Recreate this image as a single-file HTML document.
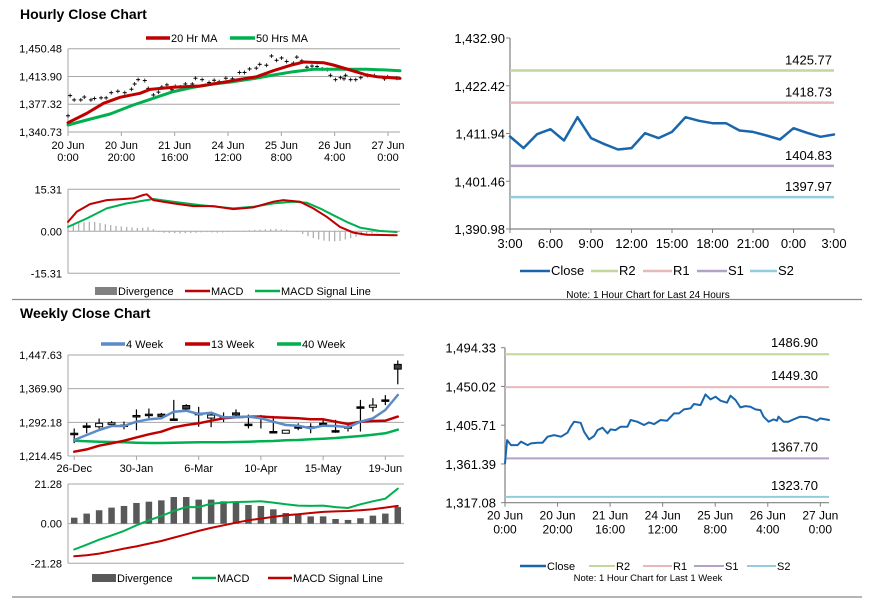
<!DOCTYPE html>
<html><head><meta charset="utf-8">
<style>
html,body{margin:0;padding:0;background:#fff;}
svg{display:block;font-family:"Liberation Sans",Arial,sans-serif;}
</style></head>
<body>
<svg id="s" width="873" height="601" viewBox="0 0 873 601" xmlns="http://www.w3.org/2000/svg">
<rect width="873" height="601" fill="#fff"/>
<text x="20" y="19" font-size="14" font-weight="bold" fill="#000">Hourly Close Chart</text>
<text x="20" y="318" font-size="14" font-weight="bold" fill="#000">Weekly Close Chart</text>
<line x1="12" y1="299.5" x2="862" y2="299.5" stroke="#888" stroke-width="1.2"/>
<line x1="12" y1="597" x2="862" y2="597" stroke="#888" stroke-width="1.2"/>
</svg>
<script>
// ---------- data ----------
const hourTicks = [0,20,40,60,80,100,120];
const hourTickLabels1 = ["20 Jun","20 Jun","21 Jun","24 Jun","25 Jun","26 Jun","27 Jun"];
const hourTickLabels2 = ["0:00","20:00","16:00","12:00","8:00","4:00","0:00"];
const closeHours = [0,0.8,2.3,4.8,6.1,8.6,9.9,12.4,14.3,16.2,18.7,21.3,23.8,25,26.3,28.8,30.1,32,33.9,35.2,37.1,39,40.2,42.1,44,46.6,47.8,50.3,52.9,54.8,56.7,59.2,61.7,64.3,66.2,68.1,70.6,71.9,74.4,76.3,78.2,80.1,82,84.5,85.8,87.7,89.6,91.5,93.4,95.3,97.2,98.4,100.3,102.2,103.5,104.1,106,107.9,109.8,112.3,114.9,118.7,119.9,123.3];
const closeValues = [1362.1,1388.7,1383.0,1383.0,1386.8,1383.0,1384.9,1385.7,1385.7,1392.5,1394.4,1392.5,1397.1,1404.0,1409.7,1408.5,1398.2,1389.5,1393.3,1400.1,1402.8,1396.3,1400.9,1400.1,1404.0,1404.0,1411.6,1409.7,1405.9,1408.9,1407.0,1411.6,1410.8,1419.2,1419.2,1423.8,1424.9,1429.9,1428.7,1440.9,1435.2,1438.3,1433.7,1431.4,1439.4,1434.5,1426.1,1427.6,1426.9,1423.8,1423.0,1415.4,1409.7,1412.3,1410.8,1415.4,1409.7,1409.7,1412.3,1415.4,1415.0,1410.8,1413.5,1411.6];
const ma20Hours = [0,7,13.3,19.5,27,30.8,39.5,49.5,59.5,64.5,70.8,77,83.3,88.3,95.8,99.5,105.8,112,115.8,124.5];
const ma20Values = [1353.0,1365.3,1378.5,1386.4,1391.7,1396.9,1399.6,1401.3,1407.0,1410.1,1413.6,1421.5,1428.5,1432.9,1432.1,1429.0,1422.4,1415.8,1413.6,1411.4];
const ma50Hours = [0,7,15.8,24.5,32,39.5,47,54.5,62,69.5,77,84.5,92,102,112,119.5,124.5];
const ma50Values = [1350.0,1356.6,1364.5,1376.3,1385.1,1393.9,1399.6,1404.0,1407.0,1411.0,1415.8,1420.2,1423.3,1423.3,1423.3,1422.4,1421.5];
const hMacdHours = [0,3.25,8.25,14.5,20.75,24.5,28.25,29.5,32,39.5,47,54.5,62,69.5,77,80.75,87,92,97,102,107,112,123.25];
const hMacdValues = [3.43,7.1,9.92,11.39,11.76,12.0,13.23,13.48,11.39,10.17,9.19,9.19,8.09,8.7,10.78,11.39,10.78,8.33,5.27,1.59,-0.49,-1.23,-1.47];
const hSigHours = [0,7,14.5,22,29.5,32,39.5,49.5,62,69.5,77,84.5,89.5,94.5,99.5,104.5,109.5,117,123.25];
const hSigValues = [1.59,4.66,8.33,10.17,11.39,11.76,10.78,9.56,8.33,8.94,10.17,10.78,10.41,8.33,5.88,3.43,1.35,0.12,-0.25];
const hDivValues = [2.0,2.5,3.0,3.3,3.5,3.4, 3.0,2.6,2.3,2.0,1.8,1.6, 1.4,1.2,1.3,1.5,0.8,-0.3, -0.5,-0.6,-0.7,-0.8,-0.7,-0.6, -0.5,-0.4,-0.3,-0.4,-0.5,-0.4, -0.3,-0.2,0.2,0.3,0.4,0.5, 0.6,0.7,0.8,0.9,0.7,0.5, 0.2,-0.3,-1.0,-1.8,-2.5,-3.0, -3.4,-3.6,-3.7,-3.5,-3.0,-2.5, -2.0,-1.5,-1.1,-0.8,-0.5,-0.3, -0.2,-0.1,-0.1];
const dayTickLabels = ["3:00","6:00","9:00","12:00","15:00","18:00","21:00","0:00","3:00"];
const dayClose = [1411.28,1408.73,1411.79,1412.89,1410.41,1415.52,1410.92,1409.60,1408.43,1408.73,1412.01,1410.92,1412.3,1415.52,1414.72,1414.2,1414.2,1412.6,1412.3,1411.5,1410.63,1413.11,1412.09,1411.21,1411.72];
const dayLevels = [1425.77,1418.73,1404.83,1397.97];
const weekLevels = [1486.90,1449.30,1367.70,1323.70];
const levelNames = ["R2","R1","S1","S2"];
const weekTickLabels = ["26-Dec","30-Jan","6-Mar","10-Apr","15-May","19-Jun"];
const weekTickIdx = [0,5,10,15,20,25];
const wOpen  = [1267,1284,1282,1288,1286,1308,1311,1311,1300,1331,1313,1302,1305,1314,1288,1307,1271,1267,1282,1282,1290,1273,1282,1328,1327,1344,1426];
const wClose = [1265,1284,1290,1291,1286,1307,1310,1306,1300,1323,1313,1309,1305,1309,1288,1307,1271,1274,1282,1282,1290,1273,1282,1328,1332,1344,1415];
const wHigh  = [1278,1291,1301,1295,1294,1322,1324,1314,1344,1334,1328,1316,1315,1322,1310,1309,1307,1274,1290,1290,1301,1298,1290,1344,1348,1355,1435];
const wLow   = [1244,1267,1278,1283,1276,1274,1301,1301,1299,1321,1282,1281,1293,1307,1278,1278,1271,1267,1274,1267,1282,1268,1271,1271,1317,1332,1380];
const w4 = [1251.4,1262.9,1274.5,1283.7,1283.7,1293.7,1299.1,1301.4,1316.8,1319.1,1311.4,1314.5,1303.7,1303.7,1305.3,1301.4,1293.7,1286.0,1284.5,1278.3,1284.5,1283.7,1280.6,1293.7,1301.4,1320.6,1355.3];
const w13 = [1224.4,1229.8,1238.3,1243.7,1249.8,1257.5,1264.5,1270.6,1280.6,1286.0,1289.9,1296.0,1301.4,1303.7,1305.3,1305.3,1303.7,1302.9,1301.4,1299.1,1299.1,1293.7,1288.3,1293.7,1295.3,1296.0,1305.3];
const w40 = [1249.8,1248.3,1247.5,1246.8,1246.0,1245.2,1244.5,1244.5,1245.2,1245.6,1246.0,1246.0,1246.0,1246.8,1247.5,1248.3,1249.0,1250.6,1251.4,1252.9,1254.4,1256.0,1258.3,1260.6,1263.7,1266.8,1275.2];
const wDiv = [3.2,5.4,7.2,8.6,9.5,11.1,11.8,12.5,14.3,14.3,12.9,12.9,12.0,11.6,10.0,9.5,7.7,5.7,5.4,3.9,3.9,2.5,2.0,2.9,4.3,5.4,8.9];
const wMacd = [-13.9,-11.3,-8.6,-6.3,-3.9,-0.9,1.8,4.1,6.8,8.9,8.9,10.7,11.3,11.6,11.8,12.0,11.3,10.4,9.7,9.5,9.7,8.9,8.4,10.4,12.0,13.4,18.8];
const wSig = [-17.5,-17.0,-16.1,-14.8,-13.4,-12.2,-10.7,-9.3,-7.5,-5.7,-3.9,-2.3,-0.9,0.5,1.8,2.7,3.6,4.5,5.0,5.7,6.3,6.6,6.8,7.2,7.7,8.6,9.5];

// ---------- helpers ----------
const S = document.getElementById('s');
const NS = 'http://www.w3.org/2000/svg';
function mk(tag, attrs){ const e=document.createElementNS(NS,tag); for(const k in attrs) e.setAttribute(k,attrs[k]); S.appendChild(e); return e; }
function lin(d0,d1,r0,r1){ return v => r0+(v-d0)/(d1-d0)*(r1-r0); }
function fmt(v){ return v.toLocaleString('en-US',{minimumFractionDigits:2,maximumFractionDigits:2}); }
const RED='#c00000', GREEN='#00b050';

function txt(x,y,s,size,anchor,name){
  const t=mk('text',{x:x,y:y,'font-size':size,'text-anchor':anchor||'start',fill:'#000'});
  t.textContent=s;
  
  
  return t;
}
function hline(x1,x2,y,color,w,name){
  const l=mk('line',{x1:x1,x2:x2,y1:y,y2:y,stroke:color,'stroke-width':w});
  
  
  return l;
}
function vline(x,y1,y2,color,w,name){
  const l=mk('line',{x1:x,x2:x,y1:y1,y2:y2,stroke:color,'stroke-width':w});
  
  
  return l;
}
function poly(xs,ys,xf,yf,color,w,name){
  const pts=xs.map((x,i)=>xf(x).toFixed(1)+','+yf(ys[i]).toFixed(1)).join(' ');
  const p=mk('polyline',{points:pts,fill:'none',stroke:color,'stroke-width':w,'stroke-linejoin':'round','stroke-linecap':'round'});
  
  
  return p;
}
function legendLine(x1,x2,y,color,w,label,name,size){
  hline(x1,x2,y,color,w,name+'-swatch');
  txt(x2+1,y+4,label,size||11,'start',name+'-label');
}
function legendBox(x1,x2,y,color,label,name){
  const r=mk('rect',{x:x1,y:y-4,width:x2-x1,height:8,fill:color});
  
  
  txt(x2+1,y+4,label,11,'start',name+'-label');
}
const idx = a => a.map((_,i)=>i);

// ---------- Hourly close (top-left) ----------
{
  const x0=68,x1=400,yt=48.7,yb=132;
  const X=lin(0,124.5,x0,x1), Y=lin(1340.73,1450.48,yb,yt);
  [1340.73,1377.32,1413.90,1450.48].forEach(t=>{ hline(x0,x1,Y(t),'#a6a6a6',1,'hourly-gridline'); txt(62,Y(t)+4,fmt(t),11,'end','hourly-y-tick'); });
  vline(x0,yt,yb,'#a6a6a6',1,'hourly-y-axis');
  hourTicks.forEach((h,i)=>{ vline(X(h),yb,yb+4,'#a6a6a6',1,'hourly-x-tick');
    txt(X(h),yb+17,hourTickLabels1[i],11,'middle','hourly-x-label'); txt(X(h),yb+29,hourTickLabels2[i],11,'middle','hourly-x-label'); });
  closeHours.forEach((h,i)=>{ const c=mk('line',{x1:X(h),x2:X(h),y1:Y(closeValues[i])-2,y2:Y(closeValues[i])+2,stroke:'#000','stroke-width':0.8});
    
    
    const d=mk('line',{x1:X(h)-2,x2:X(h)+2,y1:Y(closeValues[i]),y2:Y(closeValues[i]),stroke:'#000','stroke-width':1});
    
    
  });
  poly(ma50Hours,ma50Values,X,Y,GREEN,3,'ma50-line');
  poly(ma20Hours,ma20Values,X,Y,RED,3,'ma20-line');
  legendLine(146,170,38,RED,3.5,'20 Hr MA','legend-ma20');
  legendLine(230,255,38,GREEN,3.5,'50 Hrs MA','legend-ma50');
}
// ---------- Hourly MACD ----------
{
  const x0=68,x1=400,yt=189.3,yb=273.3;
  const X=lin(0,124.5,x0,x1), Y=lin(-15.31,15.31,yb,yt);
  [15.31,0,-15.31].forEach(t=>{ hline(x0,x1,Y(t),'#a6a6a6',1,'hourly-macd-gridline'); txt(62,Y(t)+4,fmt(t),11,'end','hourly-macd-y-tick'); });
  vline(x0,yt,yb,'#a6a6a6',1,'hourly-macd-y-axis');
  hDivValues.forEach((v,i)=>{ const x=X(i*2); vline(x,Y(0),Y(v),'#b0b0b0',1.3,'hourly-divergence-bar'); });
  poly(hSigHours,hSigValues,X,Y,GREEN,2,'hourly-signal-line');
  poly(hMacdHours,hMacdValues,X,Y,RED,2,'hourly-macd-line');
  legendBox(95,117,291,'#808080','Divergence','legend-hourly-divergence');
  legendLine(185,210,291,RED,2.5,'MACD','legend-hourly-macd');
  legendLine(255,280,291,GREEN,2.5,'MACD Signal Line','legend-hourly-signal');
}
// ---------- 24h close (top-right) ----------
{
  const x0=510,x1=834,yt=38,yb=229;
  const X=lin(0,24,x0,x1), Y=lin(1390.98,1432.90,yb,yt);
  [1432.90,1422.42,1411.94,1401.46,1390.98].forEach(t=>{ hline(x0-4,x0,Y(t),'#808080',1,'day-y-tick-mark'); txt(505,Y(t)+5,fmt(t),13,'end','day-y-tick'); });
  vline(x0,yt,yb,'#808080',1.2,'day-y-axis');
  hline(x0,x1,yb,'#808080',1.2,'day-x-axis');
  dayTickLabels.forEach((l,i)=>{ vline(X(i*3),yb,yb+4,'#808080',1,'day-x-tick'); txt(X(i*3),yb+19,l,13,'middle','day-x-label'); });
  const cols=['#c3d69b','#e6b9b8','#b3a2c7','#93cddd'];
  dayLevels.forEach((v,i)=>{ hline(x0,x1,Y(v),cols[i],2.5,'day-level-'+levelNames[i]); txt(832,Y(v)-6,v.toFixed(2),13,'end','day-level-label-'+levelNames[i]); });
  poly(idx(dayClose),dayClose,X,Y,'#1a66ad',2.5,'day-close-line');
  legendLine(520,550,271,'#1a66ad',2.5,'Close','legend-day-close',13);
  [[591,618],[643,672],[697,727],[750,777]].forEach((p,i)=>legendLine(p[0],p[1],271,cols[i],2.5,levelNames[i],'legend-day-'+levelNames[i],13));
  txt(648,298,'Note: 1 Hour Chart for Last 24 Hours',10,'middle','day-note');
}
// ---------- Weekly candles ----------
{
  const x0=68,x1=404,yt=355,yb=456;
  const n=wClose.length, bw=(x1-x0)/n;
  const X=i=>x0+bw*(i+0.5), Y=lin(1214.45,1447.63,yb,yt);
  [1214.45,1292.18,1369.90,1447.63].forEach(t=>{ hline(x0,x1,Y(t),'#a6a6a6',1,'weekly-gridline'); txt(62,Y(t)+4,fmt(t),11,'end','weekly-y-tick'); });
  vline(x0,yt,yb,'#a6a6a6',1,'weekly-y-axis');
  weekTickIdx.forEach((k,i)=>{ vline(X(k),yb,yb+4,'#a6a6a6',1,'weekly-x-tick'); txt(X(k),yb+16,weekTickLabels[i],11,'middle','weekly-x-label'); });
  wClose.forEach((c,i)=>{
    vline(X(i),Y(wHigh[i]),Y(wLow[i]),'#000',1.2,'weekly-candle-wick');
    const top=Y(Math.max(wOpen[i],c)), bot=Y(Math.min(wOpen[i],c));
    const r=mk('rect',{x:X(i)-3.5,y:top,width:7,height:Math.max(bot-top,1.5),fill:c<wOpen[i]?'#404040':(c>wOpen[i]?'#fff':'#000'),stroke:'#000','stroke-width':1});
    
    
  });
  const ix=idx(wClose);
  poly(ix,w40,X,Y,GREEN,2.5,'week40-line');
  poly(ix,w13,X,Y,RED,2.5,'week13-line');
  poly(ix,w4,X,Y,'#5b8cc8',2.5,'week4-line');
  legendLine(101,125,344,'#5b8cc8',3.5,'4 Week','legend-week4');
  legendLine(185,210,344,RED,3.5,'13 Week','legend-week13');
  legendLine(277,301,344,GREEN,3.5,'40 Week','legend-week40');
}
// ---------- Weekly MACD ----------
{
  const x0=68,x1=404,yt=484,yb=563.3;
  const n=wDiv.length, bw=(x1-x0)/n;
  const X=i=>x0+bw*(i+0.5), Y=lin(-21.28,21.28,yb,yt);
  [21.28,0,-21.28].forEach(t=>{ hline(x0,x1,Y(t),'#a6a6a6',1,'weekly-macd-gridline'); txt(62,Y(t)+4,fmt(t),11,'end','weekly-macd-y-tick'); });
  vline(x0,yt,yb,'#a6a6a6',1,'weekly-macd-y-axis');
  wDiv.forEach((v,i)=>{ const r=mk('rect',{x:X(i)-3.25,y:Math.min(Y(v),Y(0)),width:6.5,height:Math.abs(Y(v)-Y(0)),fill:'#595959'});
    
     });
  const ix=idx(wDiv);
  poly(ix,wSig,X,Y,RED,2,'weekly-signal-line');
  poly(ix,wMacd,X,Y,GREEN,2,'weekly-macd-line');
  legendBox(92,116,578,'#595959','Divergence','legend-weekly-divergence');
  legendLine(192,216,578,GREEN,2.5,'MACD','legend-weekly-macd');
  legendLine(268,292,578,RED,2.5,'MACD Signal Line','legend-weekly-signal');
}
// ---------- Weekly hourly close (bottom-right) ----------
{
  const x0=505,x1=829,yt=347.7,yb=502.7;
  const X=lin(0,123.3,x0,x1), Y=lin(1317.08,1494.33,yb,yt);
  [1494.33,1450.02,1405.71,1361.39,1317.08].forEach(t=>{ hline(x0-4,x0,Y(t),'#808080',1,'week-y-tick-mark'); txt(496,Y(t)+5,fmt(t),13,'end','week-y-tick'); });
  vline(x0,yt,yb,'#808080',1.2,'week-y-axis');
  hline(x0,x1,yb,'#808080',1.2,'week-x-axis');
  hourTicks.forEach((h,i)=>{ vline(X(h),yb,yb+4,'#808080',1,'week-x-tick');
    txt(X(h),yb+17,hourTickLabels1[i],12,'middle','week-x-label'); txt(X(h),yb+31,hourTickLabels2[i],12,'middle','week-x-label'); });
  const cols=['#c3d69b','#e6b9b8','#b3a2c7','#93cddd'];
  weekLevels.forEach((v,i)=>{ hline(x0,x1,Y(v),cols[i],2,'week-level-'+levelNames[i]); txt(818,Y(v)-7,v.toFixed(2),13,'end','week-level-label-'+levelNames[i]); });
  poly(closeHours,closeValues,X,Y,'#1a66ad',2,'week-close-line');
  legendLine(520,546,566,'#1a66ad',2.5,'Close','legend-week-close');
  [[589,615],[643,672],[694,724],[747,776]].forEach((p,i)=>legendLine(p[0],p[1],566,cols[i],2,levelNames[i],'legend-week-'+levelNames[i]));
  txt(648,581,'Note: 1 Hour Chart for Last 1 Week',9.5,'middle','week-note');
}
</script>
</body></html>
